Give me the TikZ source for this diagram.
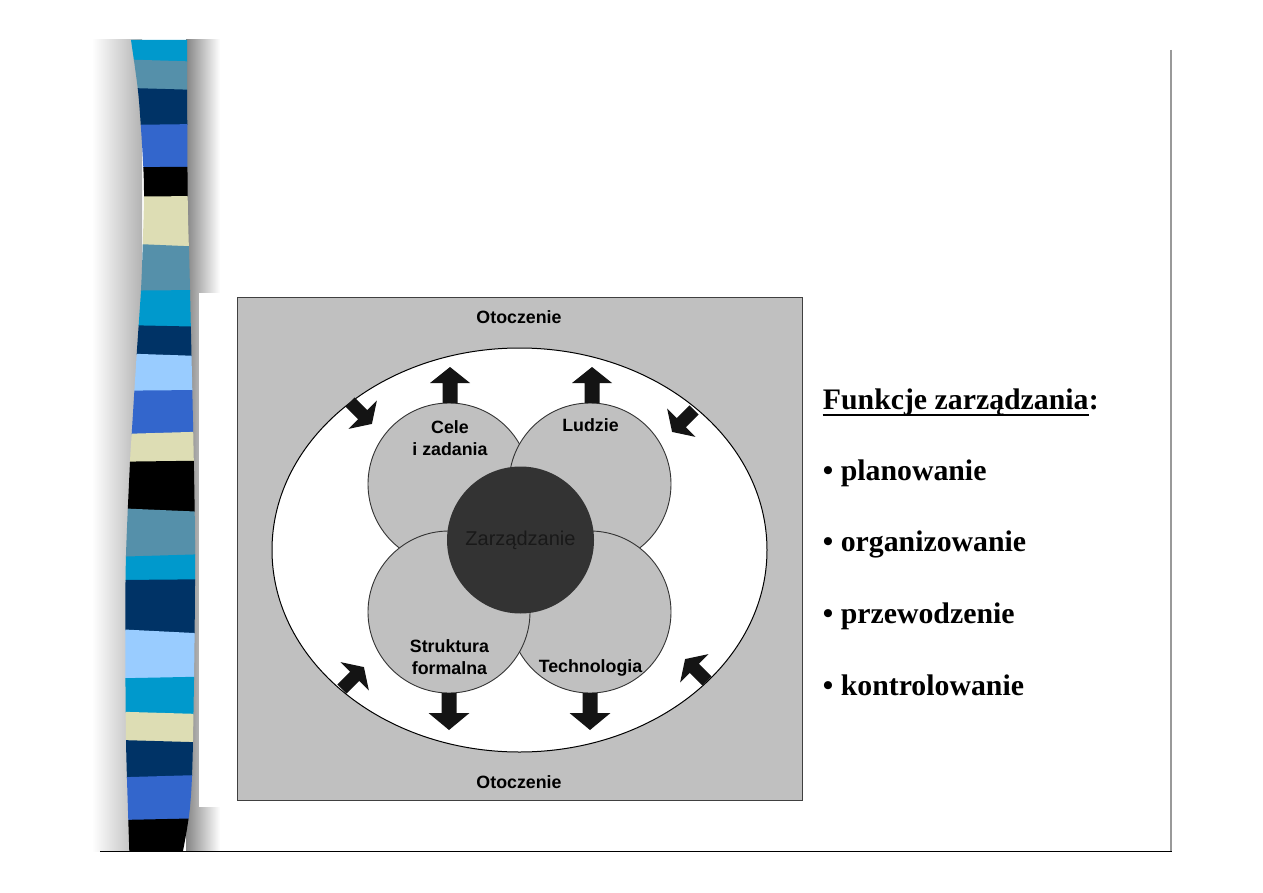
\documentclass[tikz,border=0pt]{standalone}
\usepackage{fontspec}
\setmainfont{Liberation Serif}
\newfontfamily\dsans{Liberation Sans}
\usetikzlibrary{shapes.geometric}
\definecolor{cCyan}{HTML}{0099CC}
\definecolor{cSteel}{HTML}{5590AA}
\definecolor{cNavy}{HTML}{003366}
\definecolor{cRoyal}{HTML}{3366CC}
\definecolor{cBlack}{HTML}{000000}
\definecolor{cBeige}{HTML}{DDDDB4}
\definecolor{cLight}{HTML}{99CCFF}
\definecolor{cGray}{HTML}{C0C0C0}
\definecolor{cDark}{HTML}{333333}
\definecolor{cArrow}{HTML}{141414}
% x, y, angle, length, head length, head half width, shaft half width
\newcommand\BlkArrow[7]{%
  \fill[cArrow, shift={(#1,#2)}, rotate=#3]
    (0,-#7) -- ({#4-#5},-#7) -- ({#4-#5},-#6) -- (#4,0) --
    ({#4-#5},#6) -- ({#4-#5},#7) -- (0,#7) -- cycle;}
\tikzset{
  lbl/.style={font=\dsans\bfseries\fontsize{17.8}{22.3}\selectfont, inner sep=0pt, text=black},
  part/.style={circle, draw=cDark, line width=0.9pt, fill=cGray, minimum size=162pt, inner sep=0pt},
  rt/.style={font=\bfseries\fontsize{29.8}{34}\selectfont, anchor=base west, inner sep=0pt},
}
\begin{document}
\begin{tikzpicture}[x=1pt,y=-1pt]
\useasboundingbox (0,0) rectangle (1263,893);
\fill[white] (0,0) rectangle (1263,893);

% shadows of the decorative strip
\shade[left color=white, right color=black!30] (92,40) rectangle (142,851);
\shade[left color=black!48, right color=white] (186,40) rectangle (220,851);
\fill[white] (199,293) rectangle (808,807);

% decorative strip
\begin{scope}
\clip plot[smooth] coordinates {(131,40) (137.7,88) (140.7,124) (143.3,167) (144,197) (142.7,246) (141,290) (136.7,354) (131.7,434) (130,462) (126,555) (125.3,632) (126,740) (128.3,820) (129.3,851)}
  -- plot[smooth] coordinates {(183,851) (190,807) (193,740) (195,540) (190,290) (187.7,197) (187,40)} -- cycle;
\foreach \a/\b/\c/\d/\col in {
  40/40/59.3/61.7/cCyan,
  59.3/61.7/87.7/90/cSteel,
  87.7/90/125/124/cNavy,
  125/124/167.3/166.7/cRoyal,
  167.3/166.7/196.7/196/cBlack,
  196.7/196/243.3/246.7/cBeige,
  243.3/246.7/290.7/290/cSteel,
  290.7/290/325/326.7/cCyan,
  325/326.7/353.3/356/cNavy,
  353.3/356/390.7/390/cLight,
  390.7/390/434/431.7/cRoyal,
  434/431.7/461.7/460.7/cBeige,
  461.7/460.7/508.3/511.7/cBlack,
  508.3/511.7/556.7/554.3/cSteel,
  556.7/554.3/580/579.3/cCyan,
  580/579.3/629.3/633.3/cNavy,
  629.3/633.3/678.3/676.7/cLight,
  678.3/676.7/711.7/714/cCyan,
  711.7/714/740/742.3/cBeige,
  740/742.3/777.3/775/cNavy,
  777.3/775/820/818.3/cRoyal,
  820/818.3/852/852/cBlack}
  {\fill[\col] (120,\a) -- (200,\b) -- (200,{\d+0.7}) -- (120,{\c+0.7}) -- cycle;}
\end{scope}

% slide frame
\draw[line width=1.5pt, black!40] (1171,50) -- (1171,851.5);
\draw[line width=1.5pt, black] (100,851.5) -- (1171.7,851.5);

% diagram
\node[draw=black!75, line width=1pt, fill=cGray, minimum width=565pt, minimum height=503pt, inner sep=0pt] (env) at (519.5,548.5) {};
\node[ellipse, draw=black, line width=1pt, fill=white, minimum width=495pt, minimum height=404pt, inner sep=0pt] (org) at (519.5,550) {};
\node[part] (cele) at (449,484) {};
\node[part] (ludzie) at (590,484) {};
\node[part] (tech) at (590,612) {};
\node[part] (strukt) at (449,612) {};
\node[circle, fill=cDark, minimum size=147pt, inner sep=0pt, text=black!90,
      font=\dsans\fontsize{20}{24}\selectfont] (zarz) at (520.5,540) {Zarządzanie};

% block arrows
\BlkArrow{450}{403}{90}{36}{16}{20}{7.5}
\BlkArrow{592}{403}{90}{36}{16}{20}{7.5}
\BlkArrow{449}{693}{-90}{37}{17}{20.5}{7.5}
\BlkArrow{590}{693}{-90}{37}{17}{20.5}{7.5}
\BlkArrow{350}{402}{-45}{31}{13}{20}{6.5}
\BlkArrow{694}{410}{-135}{31}{13}{20}{6.5}
\BlkArrow{342}{689}{45}{31}{13}{20}{6.5}
\BlkArrow{707}{681}{135}{31}{13}{20}{6.5}

% labels
\node[lbl, anchor=base] (otTop) at (519,323.3) {Otoczenie};
\node[lbl, anchor=base] (otBot) at (519,788) {Otoczenie};
\node[lbl, align=center] (celeL) at (450,438) {Cele\\i zadania};
\node[lbl, anchor=base] (ludzL) at (590.5,431.7) {Ludzie};
\node[lbl, align=center] (strL) at (449.5,657) {Struktura\\formalna};
\node[lbl, anchor=base] (techL) at (590.5,672.7) {Technologia};

% right text
\node[rt] (fh) at (822.7,409) {Funkcje zarządzania};
\node[rt] (fc) at (fh.base east) {:};
\draw[line width=2.4pt] ([yshift=-5.7pt]fh.base west) -- ([yshift=-5.7pt]fh.base east);
\node[rt] (b1) at (822.7,480) {• planowanie};
\node[rt] (b2) at (822.7,551.7) {• organizowanie};
\node[rt] (b3) at (822.7,623) {• przewodzenie};
\node[rt] (b4) at (822.7,695) {• kontrolowanie};
\end{tikzpicture}
\end{document}
